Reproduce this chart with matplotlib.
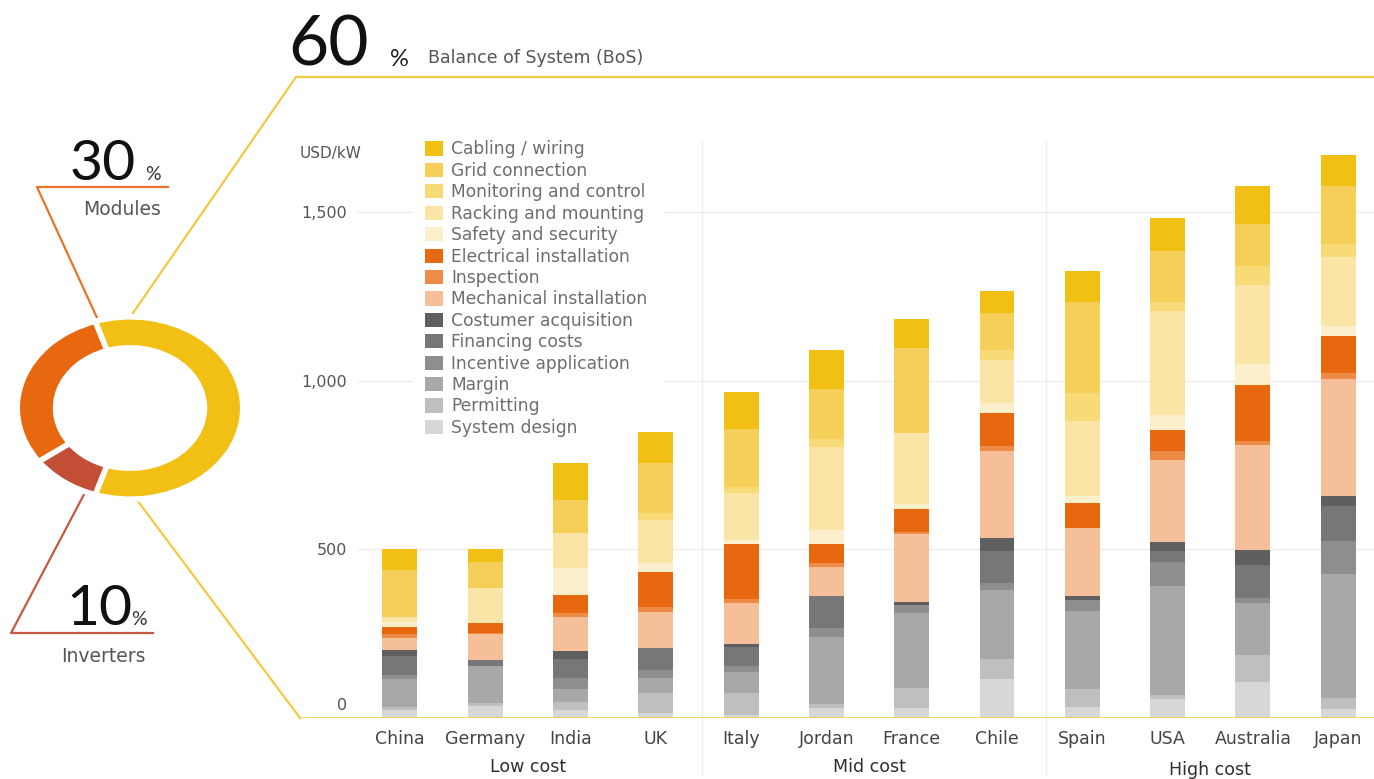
import matplotlib
matplotlib.use("Agg")
import matplotlib.pyplot as plt
import numpy as np

plt.rcParams['font.family'] = ['DejaVu Sans']
BIG = ['Lato', 'DejaVu Sans']

# --- data (USD/kW) ---
countries = ["China", "Germany", "India", "UK", "Italy", "Jordan", "France", "Chile",
             "Spain", "USA", "Australia", "Japan"]
groups = ["Low cost", "Mid cost", "High cost"]

# stacked from the bottom up
system_design = [24, 35, 24, 14, 10, 29, 29, 115, 34, 56, 106, 28]
permitting = [10, 9, 24, 59, 63, 13, 59, 59, 52, 11, 80, 31]
margin = [81, 110, 37, 45, 64, 199, 222, 206, 232, 324, 154, 369]
incentive_application = [13, 0, 33, 24, 17, 25, 25, 20, 32, 72, 17, 97]
financing_costs = [56, 18, 56, 65, 57, 96, 0, 94, 0, 32, 97, 104]
costumer_acquisition = [18, 0, 26, 0, 8, 0, 10, 40, 11, 27, 44, 30]
mechanical_installation = [34, 77, 99, 108, 121, 87, 200, 257, 203, 243, 311, 346]
inspection = [13, 4, 11, 15, 12, 10, 7, 14, 0, 28, 11, 17]
electrical_installation = [20, 28, 55, 104, 163, 56, 67, 99, 73, 61, 167, 112]
safety_and_security = [15, 0, 79, 25, 13, 42, 15, 30, 22, 45, 62, 28]
racking_and_mounting = [15, 103, 104, 128, 140, 247, 212, 128, 223, 307, 234, 204]
monitoring_and_control = [0, 0, 0, 20, 18, 22, 0, 30, 82, 28, 56, 38]
grid_connection = [140, 79, 98, 148, 170, 148, 250, 109, 268, 151, 127, 174]
cabling_wiring = [61, 37, 111, 93, 111, 117, 86, 66, 92, 97, 111, 92]

components = [
    ("System design", system_design, "#d7d7d7"),
    ("Permitting", permitting, "#bfbfbf"),
    ("Margin", margin, "#a8a8a8"),
    ("Incentive application", incentive_application, "#8e8e8e"),
    ("Financing costs", financing_costs, "#777777"),
    ("Costumer acquisition", costumer_acquisition, "#5f5f5f"),
    ("Mechanical installation", mechanical_installation, "#f5bf99"),
    ("Inspection", inspection, "#ee8b47"),
    ("Electrical installation", electrical_installation, "#e8680f"),
    ("Safety and security", safety_and_security, "#fcefcb"),
    ("Racking and mounting", racking_and_mounting, "#fbe5a6"),
    ("Monitoring and control", monitoring_and_control, "#f8da77"),
    ("Grid connection", grid_connection, "#f5cf57"),
    ("Cabling / wiring", cabling_wiring, "#f2c014"),
]

# cost split of a PV system
share_labels = ["Balance of System (BoS)", "Modules", "Inverters"]
share_values = [60, 30, 10]
share_colors = ["#f2c014", "#e8680f", "#c24f36"]

W, H = 1374, 779
fig = plt.figure(figsize=(W / 100, H / 100), dpi=100)

def box(x0, y0, x1, y1):
    # pixel box (top-left origin) -> figure fraction rect
    return [x0 / W, 1 - y1 / H, (x1 - x0) / W, (y1 - y0) / H]

# full-figure layer for connector lines and headline text
ov = fig.add_axes([0, 0, 1, 1], zorder=0)
ov.set_xlim(0, W)
ov.set_ylim(H, 0)
ov.axis("off")

YEL = "#f3c944"
ov.plot([1374, 296, 133], [77, 77, 313], color=YEL, lw=1.6, solid_joinstyle="miter")
ov.plot([137, 300], [500, 718], color=YEL, lw=1.6)
ov.plot([168, 37, 98], [187, 187, 320], color="#e8742a", lw=1.6)
ov.plot([153, 11, 90], [633, 633, 483], color="#c65a40", lw=1.6)

ov.text(288, 65, str(share_values[0]), fontsize=50, family=BIG, color="#111111",
        va="baseline", ha="left")
ov.text(390, 66, "%", fontsize=17, family=BIG, color="#222222", va="baseline")
ov.text(428, 63, share_labels[0], fontsize=12.5, color="#555555", va="baseline")

ov.text(70, 180, str(share_values[1]), fontsize=41, family=BIG, color="#111111",
        va="baseline")
ov.text(145, 180, "%", fontsize=14, family=BIG, color="#333333", va="baseline")
ov.text(122, 209, share_labels[1], fontsize=13.5, color="#555555", ha="center", va="center")

ov.text(66, 625, str(share_values[2]), fontsize=41, family=BIG, color="#111111",
        va="baseline")
ov.text(131, 625, "%", fontsize=14, family=BIG, color="#333333", va="baseline")
ov.text(103, 657, share_labels[2], fontsize=13.5, color="#555555", ha="center", va="center")

# donut (stretched into an ellipse)
dax = fig.add_axes(box(15, 315, 245, 501), zorder=2)
dax.pie(share_values, colors=share_colors, startangle=-108, counterclock=True,
        wedgeprops=dict(width=0.34, edgecolor="white", linewidth=4))
dax.set_aspect("auto")
dax.set_xlim(-1.02, 1.02)
dax.set_ylim(-1.02, 1.02)

# stacked bars
px_per_unit = 0.3373
y_top = 1800
ax = fig.add_axes(box(300, 718 - y_top * px_per_unit, 1374, 718), zorder=1)
ax.patch.set_alpha(0)
x = np.arange(len(countries))
bottom = np.zeros(len(countries))
handles = []
for name, vals, col in components:
    b = ax.bar(x, vals, bottom=bottom, width=0.41, color=col, label=name, zorder=3)
    handles.append(b)
    bottom += np.array(vals)

ax.set_xlim(-1.172, 11.42)
ax.set_ylim(0, y_top)
for s in ax.spines.values():
    s.set_visible(False)

# gridlines, broken where the legend sits
grid_kw = dict(color="#ececec", lw=1, zorder=1)
for v in [500, 1000, 1500]:
    if v >= 1000:
        ax.axhline(v, xmin=58 / 1074, xmax=112 / 1074, **grid_kw)
        ax.axhline(v, xmin=365 / 1074, xmax=1, **grid_kw)
    else:
        ax.axhline(v, xmin=58 / 1074, xmax=1, **grid_kw)
ax.axhline(0, color=YEL, lw=1.8, zorder=4)
for xs in [3.54, 7.58]:
    ax.axvline(xs, ymin=-0.093, ymax=0.95, color="#ececec", lw=1, zorder=1, clip_on=False)

ax.set_yticks([500, 1000, 1500])
ax.set_yticklabels(["500", "1,000", "1,500"])
ax.tick_params(axis="y", length=0, pad=-34, labelsize=11.5, labelcolor="#555555")
ax.annotate("0", xy=(0, 0), xycoords=ax.get_yaxis_transform(), xytext=(47, 13),
            textcoords="offset pixels", ha="right", va="center", fontsize=11.5,
            color="#555555")
ax.text(0.0, 1675, "USD/kW", fontsize=11, color="#555555", va="center", ha="left",
        transform=ax.get_yaxis_transform())

ax.set_xticks(x)
ax.set_xticklabels(countries)
ax.tick_params(axis="x", length=0, pad=9, labelsize=12.5, labelcolor="#444444")

for i, g in enumerate(groups):
    ax.text(1.5 + 4 * i, -145 - (9 if i == 2 else 0), g, ha="center", va="center",
            fontsize=12.5, color="#2e2e2e")

leg = ax.legend(handles[::-1], [c[0] for c in components][::-1], loc="upper left",
                bbox_to_anchor=(122 / 1074, (718 - 137) / (y_top * px_per_unit)),
                frameon=False, fontsize=12.3, labelspacing=0.2, handlelength=1.0,
                handleheight=0.9, handletextpad=0.5, borderpad=0.2, borderaxespad=0)
for t in leg.get_texts():
    t.set_color("#6e6e6e")
leg.set_zorder(5)

fig.savefig("out.png", dpi=100)
